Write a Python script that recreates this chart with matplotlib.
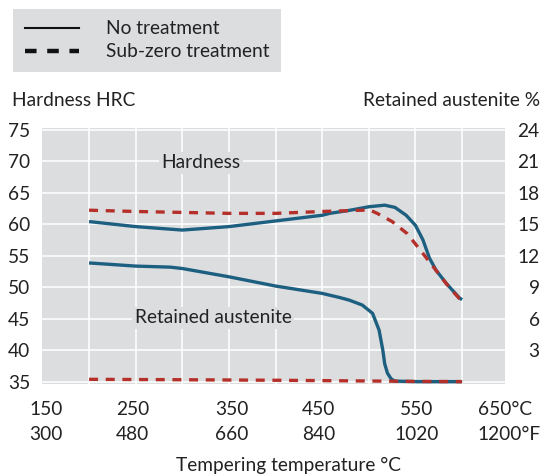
import matplotlib
matplotlib.use('Agg')
import matplotlib.pyplot as plt
from matplotlib.lines import Line2D

plt.rcParams['font.family'] = ['Lato', 'DejaVu Sans']
plt.rcParams['font.size'] = 13.8
plt.rcParams['text.color'] = '#222222'

# hardness, no treatment (HRC)
temp_hard_none = [200, 250, 300, 350, 400, 450, 458, 480, 500, 517, 528,
                  540, 550, 558, 565, 572, 583, 597, 600]
hrc_none = [60.4, 59.6, 59.05, 59.6, 60.5, 61.4, 61.7, 62.2, 62.75, 63.0, 62.65,
            61.4, 59.8, 57.5, 54.6, 52.7, 50.6, 48.3, 48.0]

# hardness, sub-zero treatment (HRC)
temp_hard_sub = [200, 250, 300, 350, 400, 450, 493, 500, 509, 525, 541,
                 554, 565, 576, 586, 597, 600]
hrc_sub = [62.2, 62.0, 61.85, 61.7, 61.7, 62.0, 62.2, 62.3, 61.7, 60.4, 58.5,
           56.1, 54.0, 51.9, 50.0, 48.2, 47.9]

# retained austenite, no treatment (%)
temp_ra_none = [200, 250, 287, 300, 350, 400, 450, 469, 479, 493, 504,
                511, 515, 517, 520, 524, 528, 550, 600]
ra_none = [11.3, 11.0, 10.9, 10.77, 9.98, 9.1, 8.4, 8.0, 7.76, 7.29, 6.5,
           4.9, 3.0, 1.7, 0.8, 0.25, 0.05, 0.0, 0.0]

# retained austenite, sub-zero treatment (%)
temp_ra_sub = [200, 300, 400, 500, 550, 600]
ra_sub = [0.22, 0.18, 0.13, 0.06, 0.02, 0.0]

hrc_ticks = [35, 40, 45, 50, 55, 60, 65, 70, 75]
ra_ticks = [3, 6, 9, 12, 15, 18, 21, 24]
degc_labels = ['150', '250', '350', '450', '550', '650°C']
degf_labels = ['300', '480', '660', '840', '1020', '1200°F']
label_temps = [154, 247, 353, 446, 551, 617]

blue = '#1d5f80'
red = '#b5302a'
bg = '#dcdddf'
fs = 13.8

fig = plt.figure(figsize=(5.42, 4.75), dpi=100)
ax = fig.add_axes([0.0766, 0.1926, 0.8551, 0.5373])
ax.set_facecolor(bg)
for s in ax.spines.values():
    s.set_visible(False)

ax.set_xlim(149, 646)
ax.set_ylim(34.7, 75.2)
ax.set_xticks(range(200, 601, 50))
ax.set_xticklabels([])
ax.set_yticks(hrc_ticks)
ax.grid(True, color='white', lw=1.1)
ax.set_axisbelow(True)
ax.tick_params(length=0, pad=8, labelsize=fs, colors='#222222')

ax2 = ax.twinx()
for s in ax2.spines.values():
    s.set_visible(False)
lo, hi = ax.get_ylim()
ax2.set_ylim((lo - 35) * 0.6, (hi - 35) * 0.6)
ax2.set_yticks(ra_ticks)
ax2.tick_params(length=0, pad=25, labelsize=fs, colors='#222222')
for lab in ax2.get_yticklabels():
    lab.set_horizontalalignment('right')

lw = 2.4
ax.plot(temp_hard_none, hrc_none, color=blue, lw=lw, solid_capstyle='butt', zorder=3)
ax2.plot(temp_ra_none, ra_none, color=blue, lw=lw, solid_capstyle='butt', zorder=3)
ax.plot(temp_hard_sub, hrc_sub, color=red, lw=lw, dashes=(2.7, 2.3), zorder=4)
ax2.plot(temp_ra_sub, ra_sub, color=red, lw=lw, dashes=(2.7, 2.3), zorder=4)

box = dict(facecolor=bg, edgecolor='none', pad=2)
ax.text(320, 69.7, 'Hardness', ha='center', va='center', bbox=box, zorder=5)
ax.text(333, 45.1, 'Retained austenite', ha='center', va='center', bbox=box, zorder=5)

tr = ax.get_xaxis_transform()
for i, t in enumerate(label_temps):
    ha = 'left' if i == len(label_temps) - 1 else 'center'
    ax.text(t, -0.103, degc_labels[i], transform=tr, ha=ha, va='center')
    ax.text(t, -0.2, degf_labels[i], transform=tr, ha=ha, va='center')

fig.text(12 / 542, 1 - 100 / 475, 'Hardness HRC', ha='left', va='center')
fig.text(540 / 542, 1 - 100 / 475, 'Retained austenite %', ha='right', va='center')
fig.text(288 / 542, 1 - 465 / 475, 'Tempering temperature °C', ha='center', va='center')

handles = [Line2D([], [], color='#111111', lw=1.5),
           Line2D([], [], color='#111111', lw=3.2, dashes=(2.6, 2.4))]
leg = fig.legend(handles, ['No treatment', 'Sub-zero treatment'],
                 loc='upper left', bbox_to_anchor=(13 / 542, 1 - 9 / 475),
                 borderaxespad=0, frameon=True, fancybox=False,
                 facecolor=bg, edgecolor='none', framealpha=1,
                 handlelength=2.85, handletextpad=1.4, labelspacing=0.3,
                 borderpad=0.6, fontsize=fs)

fig.savefig('out.png', dpi=100)
